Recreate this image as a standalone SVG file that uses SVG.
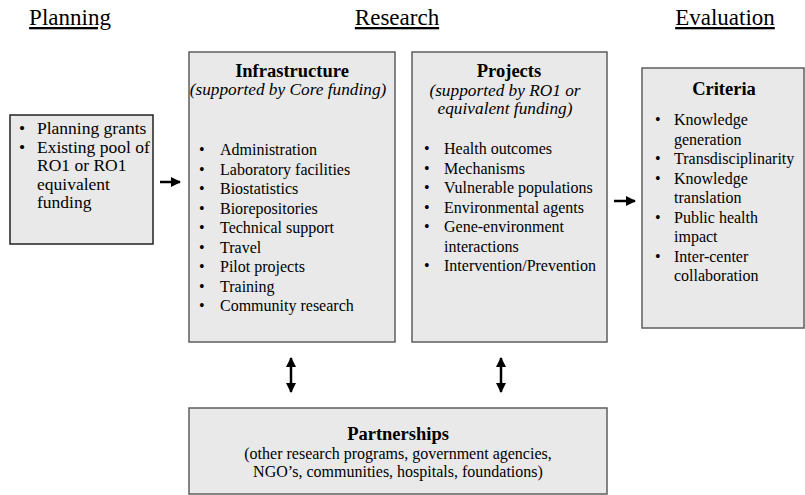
<svg xmlns="http://www.w3.org/2000/svg" width="805" height="495" viewBox="0 0 805 495">
<defs>
<style>
text{font-family:"Liberation Serif","Times New Roman",serif;fill:#000}
.hd{font-size:23px;text-anchor:middle;text-decoration:underline}
.t{font-size:16px}
.tp{font-size:17.5px}
.b{font-size:18.5px;font-weight:bold;text-anchor:middle}
.i{font-size:17.3px;font-style:italic;text-anchor:middle}
.c{font-size:16px;text-anchor:middle}
.box{fill:#e9e9e9;stroke:#5e5e5e;stroke-width:1.5}
.dk{stroke:#222}
.ar{stroke:#000;stroke-width:2.5;fill:none}
</style>
<marker id="ah" viewBox="0 0 10 10" refX="9" refY="5" markerWidth="4" markerHeight="4" orient="auto-start-reverse" markerUnits="strokeWidth">
<path d="M0,0 L10,5 L0,10 z" fill="#000"/>
</marker>
</defs>
<rect width="805" height="495" fill="#fff"/>
<g id="headers">
<text class="hd" x="70" y="25">Planning</text>
<text class="hd" x="397" y="25">Research</text>
<text class="hd" x="725" y="25">Evaluation</text>
</g>
<g id="planning">
<rect class="box dk" x="10" y="115" width="143" height="129"/>
<text class="tp" x="19" y="134">•</text><text class="tp" x="37" y="134">Planning grants</text>
<text class="tp" x="19" y="152.5">•</text><text class="tp" x="37" y="152.5">Existing pool of</text>
<text class="tp" x="37" y="171">RO1 or RO1</text>
<text class="tp" x="37" y="189.5">equivalent</text>
<text class="tp" x="37" y="208">funding</text>
</g>
<g id="infrastructure">
<rect class="box" x="189" y="52" width="206" height="290"/>
<text class="b" x="292" y="77">Infrastructure</text>
<text class="i" x="288" y="95">(supported by Core funding)</text>
<g class="t">
<text x="199" y="155">•</text><text x="220" y="155">Administration</text>
<text x="199" y="174.5">•</text><text x="220" y="174.5">Laboratory facilities</text>
<text x="199" y="194">•</text><text x="220" y="194">Biostatistics</text>
<text x="199" y="213.5">•</text><text x="220" y="213.5">Biorepositories</text>
<text x="199" y="233">•</text><text x="220" y="233">Technical support</text>
<text x="199" y="252.5">•</text><text x="220" y="252.5">Travel</text>
<text x="199" y="272">•</text><text x="220" y="272">Pilot projects</text>
<text x="199" y="291.5">•</text><text x="220" y="291.5">Training</text>
<text x="199" y="311">•</text><text x="220" y="311">Community research</text>
</g>
</g>
<g id="projects">
<rect class="box" x="412" y="52" width="195" height="290"/>
<text class="b" x="509" y="77">Projects</text>
<text class="i" x="505" y="96">(supported by RO1 or</text>
<text class="i" x="505" y="114">equivalent funding)</text>
<g class="t">
<text x="424" y="154">•</text><text x="444" y="154">Health outcomes</text>
<text x="424" y="173.5">•</text><text x="444" y="173.5">Mechanisms</text>
<text x="424" y="193">•</text><text x="444" y="193">Vulnerable populations</text>
<text x="424" y="212.5">•</text><text x="444" y="212.5">Environmental agents</text>
<text x="424" y="232">•</text><text x="444" y="232">Gene-environment</text>
<text x="444" y="251.5">interactions</text>
<text x="424" y="271">•</text><text x="444" y="271">Intervention/Prevention</text>
</g>
</g>
<g id="criteria">
<rect class="box" x="642" y="68" width="162" height="260"/>
<text class="b" x="724" y="95">Criteria</text>
<g class="t">
<text x="655" y="125">•</text><text x="674" y="125">Knowledge</text>
<text x="674" y="144.5">generation</text>
<text x="655" y="164">•</text><text x="674" y="164">Transdisciplinarity</text>
<text x="655" y="183.5">•</text><text x="674" y="183.5">Knowledge</text>
<text x="674" y="203">translation</text>
<text x="655" y="222.5">•</text><text x="674" y="222.5">Public health</text>
<text x="674" y="242">impact</text>
<text x="655" y="261.5">•</text><text x="674" y="261.5">Inter-center</text>
<text x="674" y="281">collaboration</text>
</g>
</g>
<g id="partnerships">
<rect class="box" x="189" y="408" width="418" height="86"/>
<text class="b" x="398" y="440">Partnerships</text>
<text class="c" x="398" y="459">(other research programs, government agencies,</text>
<text class="c" x="398" y="477">NGO’s, communities, hospitals, foundations)</text>
</g>
<g id="connectors">
<line class="ar" x1="160" y1="182" x2="180" y2="182" marker-end="url(#ah)"/>
<line class="ar" x1="614" y1="201" x2="635" y2="201" marker-end="url(#ah)"/>
<line class="ar" x1="291" y1="358" x2="291" y2="392" marker-start="url(#ah)" marker-end="url(#ah)"/>
<line class="ar" x1="501" y1="358" x2="501" y2="392" marker-start="url(#ah)" marker-end="url(#ah)"/>
</g>
</svg>
